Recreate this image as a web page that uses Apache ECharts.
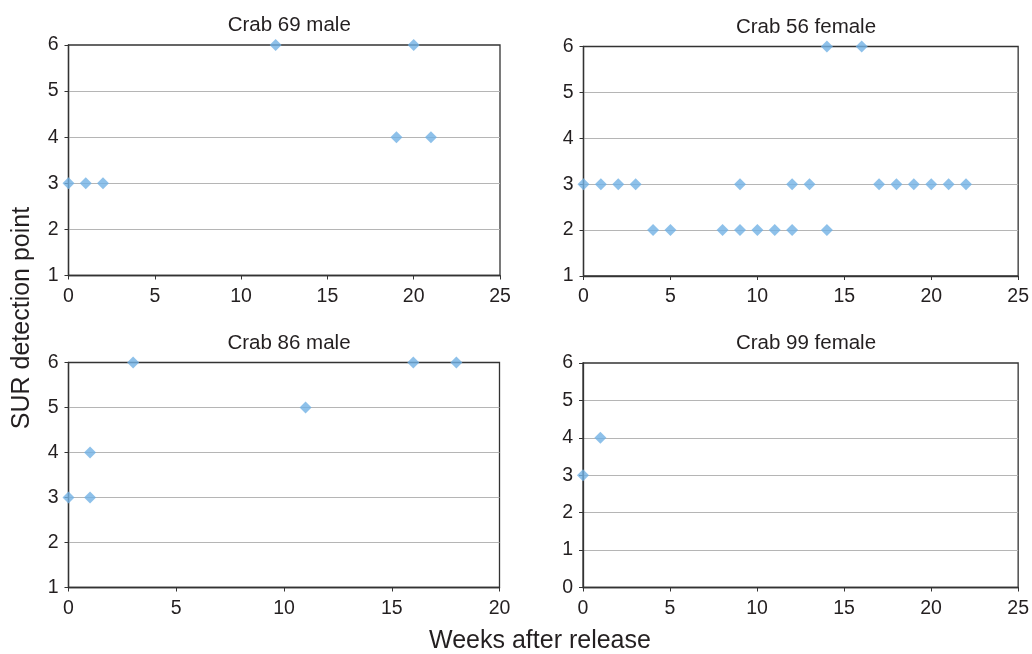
<!DOCTYPE html>
<html><head><meta charset="utf-8">
<script src="https://cdn.jsdelivr.net/npm/echarts@6/dist/echarts.min.js"></script>
<style>html,body{margin:0;padding:0;background:#fff}#c{width:1032px;height:654px}</style>
</head><body><div id="c"></div>
<script>
const panelTitles = ["Crab 69 male", "Crab 56 female", "Crab 86 male", "Crab 99 female"];
const crab69 = [[0,3],[1,3],[2,3],[12,6],[19,4],[20,6],[21,4]];
const crab56 = [[0,3],[1,3],[2,3],[3,3],[4,2],[5,2],[8,2],[9,2],[9,3],[10,2],[11,2],[12,2],[12,3],[13,3],[14,2],[14,6],[16,6],[17,3],[18,3],[19,3],[20,3],[21,3],[22,3]];
const crab86 = [[0,3],[1,3],[1,4],[3,6],[11,5],[16,6],[18,6]];
const crab99 = [[0,3],[1,4]];
const xMax = [25, 25, 20, 25];
const yMin = [1, 1, 1, 0];
const yMax = [6, 6, 6, 6];
const yLabel = "SUR detection point";
const xLabel = "Weeks after release";

const seriesData = [crab69, crab56, crab86, crab99];
const grids = [
  {left:68.5, top:45, width:431.5, height:230.5},
  {left:583.5, top:46.5, width:435, height:229.5},
  {left:68.5, top:362.5, width:431, height:225},
  {left:583, top:363, width:436, height:224.5}
];
const txt = '#231f20';
const font = '"Liberation Sans", Arial, Helvetica, sans-serif';
const option = {
  animation:false,
  textStyle:{fontFamily:font},
  title: panelTitles.map((t,i)=>({
    text:t, left:grids[i].left+grids[i].width/2, top:grids[i].top-35, textAlign:'center',
    textStyle:{fontSize:20.5, fontWeight:'normal', color:txt, fontFamily:font}
  })),
  grid: grids.map(g=>Object.assign({show:true, borderColor:'#333', borderWidth:1.3, backgroundColor:'transparent'}, g)),
  xAxis: grids.map((g,i)=>({
    type:'value', gridIndex:i, min:0, max:xMax[i], interval:5,
    axisLine:{show:true, onZero:false, lineStyle:{color:'#333', width:1.3}},
    axisTick:{show:true, length:4, lineStyle:{color:'#333'}},
    axisLabel:{fontSize:19.5, color:txt, margin:11, fontFamily:font},
    splitLine:{show:false}
  })),
  yAxis: grids.map((g,i)=>({
    type:'value', gridIndex:i, min:yMin[i], max:yMax[i], interval:1,
    axisLine:{show:true, onZero:false, lineStyle:{color:'#333', width:1.3}},
    axisTick:{show:true, length:4, lineStyle:{color:'#333'}},
    axisLabel:{fontSize:19.5, color:txt, margin:10, fontFamily:font},
    splitLine:{show:true, showMinLine:false, showMaxLine:false, lineStyle:{color:'#b5b5b5', width:1}}
  })),
  series: seriesData.map((d,i)=>({
    type:'scatter', xAxisIndex:i, yAxisIndex:i, data:d, symbol:'diamond', symbolSize:[12,12],
    clip:false, itemStyle:{color:'#72b1e5'}
  })),
  graphic:[
    {type:'text', x:540, y:641, style:{text:xLabel, font:'25px '+font, fill:txt, textAlign:'center', textVerticalAlign:'middle'}},
    {type:'text', x:22, y:318, rotation:Math.PI/2, style:{text:yLabel, font:'25px '+font, fill:txt, textAlign:'center', textVerticalAlign:'middle'}}
  ]
};
const chart = echarts.init(document.getElementById('c'), null, {renderer:'canvas'});
chart.setOption(option);
</script></body></html>
